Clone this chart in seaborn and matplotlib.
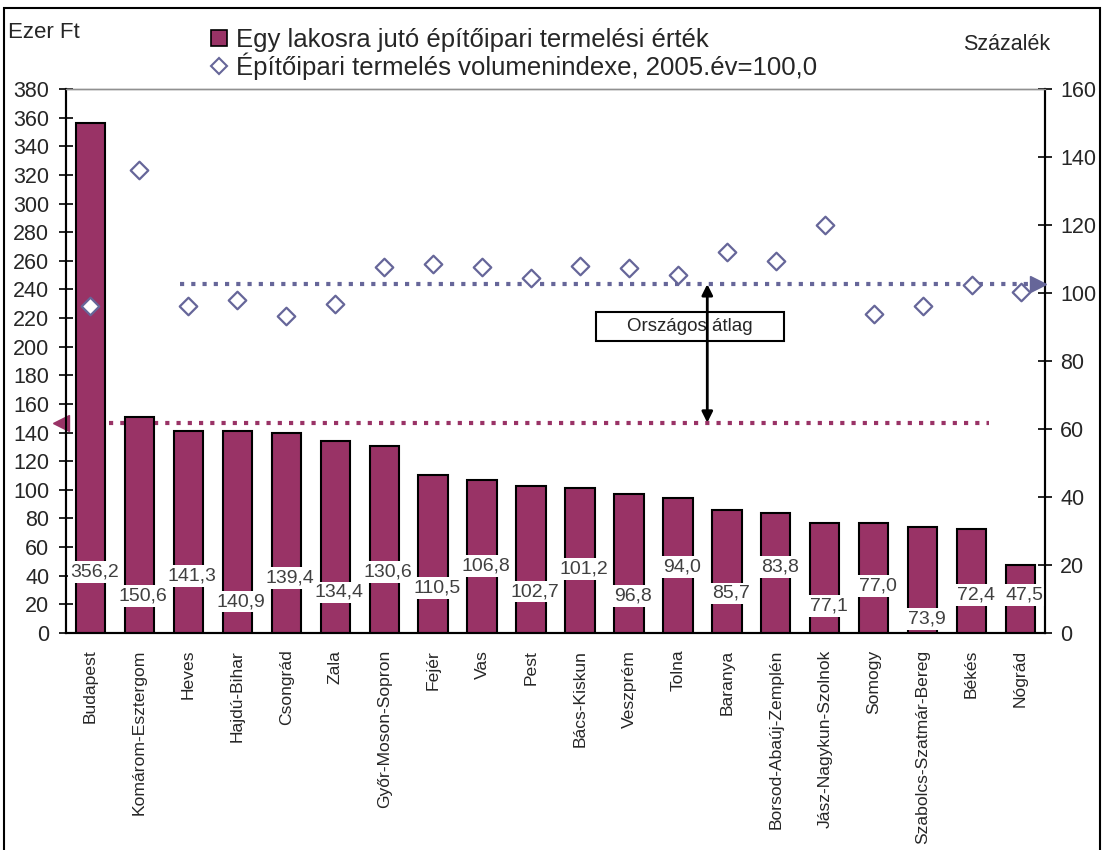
import numpy as np
import pandas as pd
import matplotlib
matplotlib.use("Agg")
import matplotlib.pyplot as plt
from matplotlib.lines import Line2D
from matplotlib.patches import Rectangle
import seaborn as sns

# Adatok (megyék, egy lakosra jutó érték ezer Ft-ban, volumenindex %)
megyek = ["Budapest", "Komárom-Esztergom", "Heves", "Hajdú-Bihar", "Csongrád",
          "Zala", "Győr-Moson-Sopron", "Fejér", "Vas", "Pest", "Bács-Kiskun",
          "Veszprém", "Tolna", "Baranya", "Borsod-Abaúj-Zemplén",
          "Jász-Nagykun-Szolnok", "Somogy", "Szabolcs-Szatmár-Bereg", "Békés",
          "Nógrád"]
ertek = [356.2, 150.6, 141.3, 140.9, 139.4, 134.4, 130.6, 110.5, 106.8, 102.7,
         101.2, 96.8, 94.0, 85.7, 83.8, 77.1, 77.0, 73.9, 72.4, 47.5]
index = [96.2, 136.2, 96.3, 98.0, 93.3, 96.9, 107.6, 108.6, 107.6, 104.5,
         108.0, 107.4, 105.3, 112.1, 109.3, 119.9, 93.9, 96.3, 102.4, 100.3]
orszagos_ertek = 146.9   # országos átlag, ezer Ft
orszagos_index = 102.6   # országos átlag, %

# címkék függőleges helye (bal tengely egységében)
cimke_y = [42.4, 25.8, 39.8, 21.9, 38.2, 28.4, 42.4, 31.2, 46.8, 28.9,
           44.5, 25.8, 46.3, 27.7, 45.9, 18.9, 32.8, 9.8, 26.5, 26.5]

BORDO = "#993366"
LILA = "#666699"

sns.set_theme(style="white")
plt.rcParams["font.family"] = ["Liberation Sans", "DejaVu Sans"]

df = pd.DataFrame({"megye": megyek, "ertek": ertek, "index": index,
                   "pos": np.arange(len(megyek))})

fig = plt.figure(figsize=(11.04, 8.5), dpi=100)
ax = fig.add_axes([0.0598, 0.2553, 0.8868, 0.640])

# --- oszlopok ---
sns.barplot(data=df, x="megye", y="ertek", color=BORDO, saturation=1,
            width=0.6, edgecolor="black", linewidth=1.5, ax=ax, zorder=3)

# országos átlag (bal)
ax.plot([-0.55, 18.36], [orszagos_ertek] * 2, color=BORDO, lw=3,
        ls=(0, (1, 1.7)), solid_capstyle="butt", dash_capstyle="butt", zorder=2)
ax.plot([-0.6], [orszagos_ertek], marker="<", ms=11, color=BORDO,
        clip_on=False, zorder=5)

# adatcímkék
for i, (v, cy) in enumerate(zip(ertek, cimke_y)):
    ax.text(i + 0.08, cy, f"{v:.1f}".replace(".", ","), ha="center", va="center",
            fontsize=14, color="#404040", zorder=6,
            bbox=dict(boxstyle="square,pad=0.12", fc="white", ec="none"))

ax.set_xlim(-0.5, 19.5)
ax.set_ylim(0, 380)
ax.set_yticks(np.arange(0, 381, 20))
ax.set_xlabel("")
ax.set_ylabel("")
ax.set_xticks(range(len(megyek)))
ax.set_xticklabels(megyek, rotation=90, fontsize=12.6)
ax.set_xticks(np.arange(0.5, 19.5, 1), minor=True)
ax.tick_params(axis="x", which="major", length=0, pad=12)
ax.tick_params(axis="x", which="minor", length=10, width=1.2, direction="inout", color="black")
ax.tick_params(axis="y", length=10, width=1.2, direction="inout", color="black",
               labelsize=15.5, pad=7, left=True)

# Országos átlag doboz
ax.add_patch(Rectangle((10.32, 204), 3.85, 20.2, fc="white", ec="black", lw=1.5, zorder=4))
ax.text(12.25, 214.2, "Országos átlag", ha="center", va="center", fontsize=13.5, zorder=5)

# --- jobb tengely: volumenindex ---
ax2 = ax.twinx()
sns.scatterplot(data=df, x="pos", y="index", marker="D", s=80, color="white",
                edgecolor=LILA, linewidth=1.6, ax=ax2, zorder=5)
ax2.plot([1.83, 19.4], [orszagos_index] * 2, color=LILA, lw=3,
         ls=(0, (1, 1.7)), dash_capstyle="butt", zorder=3)
ax2.plot([19.35], [orszagos_index], marker=">", ms=11, color=LILA,
         clip_on=False, zorder=6)
ax2.annotate("", xy=(12.6, orszagos_index), xycoords="data",
             xytext=(12.6, orszagos_ertek), textcoords=ax.transData,
             arrowprops=dict(arrowstyle="<|-|>", color="black", lw=2,
                             shrinkA=0, shrinkB=0, mutation_scale=16))
ax2.set_ylim(0, 160)
ax2.set_yticks(np.arange(0, 161, 20))
ax2.set_ylabel("")
ax2.set_xlabel("")
ax2.set_xlim(-0.5, 19.5)
ax2.tick_params(axis="y", length=10, width=1.2, direction="inout", color="black",
                labelsize=15.5, pad=6, right=True)

for a in (ax, ax2):
    for s in ("left", "right", "bottom"):
        a.spines[s].set_color("black")
        a.spines[s].set_linewidth(1.5)
    a.spines["top"].set_color("#909090")
    a.spines["top"].set_linewidth(1)

# feliratok
fig.text(8 / 1104, 1 - 33 / 850, "Ezer Ft", fontsize=16, va="center")
fig.text(963 / 1104, 1 - 45 / 850, "Százalék", fontsize=15.5, va="center")

kezelok = [Line2D([], [], ls="none", marker="s", ms=11, mfc=BORDO, mec="black", mew=1.2),
           Line2D([], [], ls="none", marker="D", ms=8, mfc="white", mec=LILA, mew=1.5)]
fig.legend(kezelok, ["Egy lakosra jutó építőipari termelési érték",
                     "Építőipari termelés volumenindexe, 2005.év=100,0"],
           loc="upper left", bbox_to_anchor=(197 / 1104, 1 - 15 / 850),
           frameon=False, fontsize=18.5, handlelength=0.7, handletextpad=0.3,
           labelspacing=0.03, borderpad=0)

# külső keret
fig.patches.append(Rectangle((4 / 1104, -0.02), 1096 / 1104, 1 - 8 / 850 + 0.02,
                             transform=fig.transFigure, fill=False,
                             edgecolor="black", lw=1.5))

fig.savefig("out.png", dpi=100)
